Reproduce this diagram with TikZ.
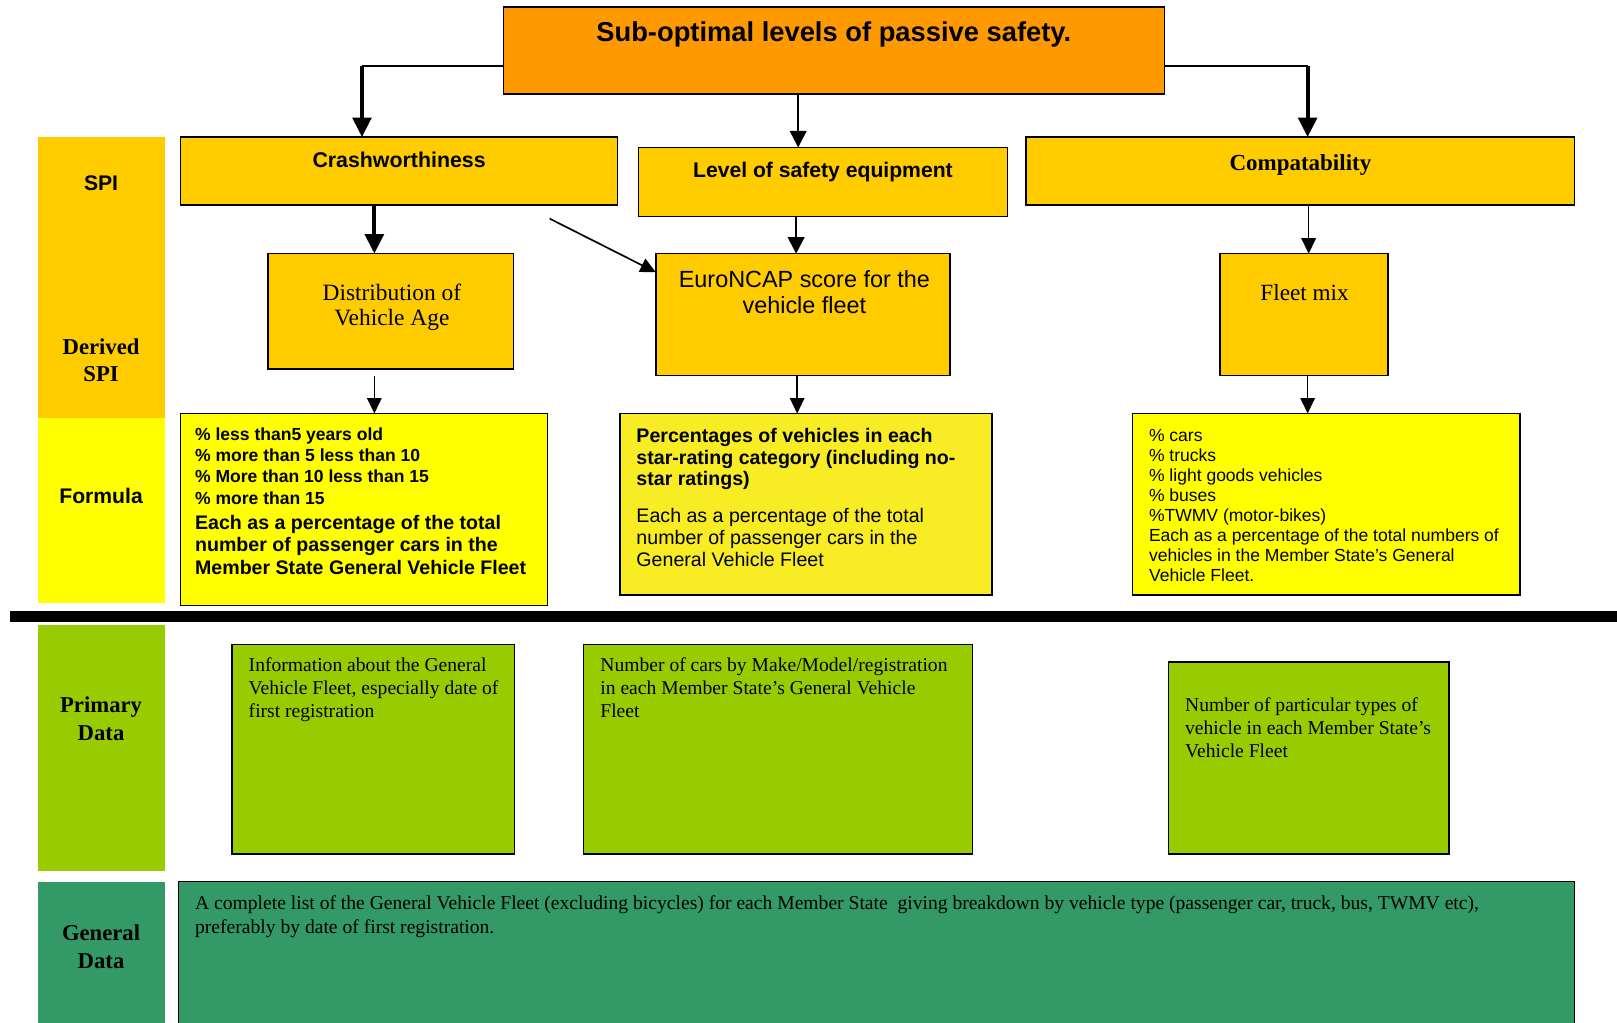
\documentclass[tikz,border=0pt]{standalone}
\usepackage{fontspec}
\setmainfont{Liberation Serif}
\setsansfont{Liberation Sans}
\usetikzlibrary{arrows.meta}
\definecolor{corange}{RGB}{255,153,0}
\definecolor{cgold}{RGB}{255,204,0}
\definecolor{cyellow}{RGB}{255,255,0}
\definecolor{cpale}{RGB}{248,236,36}
\definecolor{clime}{RGB}{153,204,0}
\definecolor{csea}{RGB}{51,153,102}
\newcommand{\fs}[2]{\fontsize{#1}{#2}\selectfont}
\tikzset{
  box/.style={draw=black, line width=1.4pt, inner sep=0pt, outer sep=0pt, anchor=north west},
  band/.style={inner sep=0pt, outer sep=0pt, anchor=north west},
  lbl/.style={inner sep=0pt, anchor=base, align=center},
  txt/.style={inner sep=0pt, anchor=base west, align=left},
  plainline/.style={line width=1.6pt},
  thickarr/.style={line width=4pt, -{Triangle[length=19pt,width=18pt]}},
  medarr/.style={line width=2.2pt, -{Triangle[length=16pt,width=16pt]}},
  thinarr/.style={line width=1.6pt, -{Triangle[length=15pt,width=14pt]}},
}
\begin{document}
\begin{tikzpicture}[x=1pt,y=-1pt]
\clip (0,0) rectangle (1568,992);
% left bands
\node[band, fill=cgold,  minimum width=123pt, minimum height=272pt] (bandS) at (37,133) {};
\node[band, fill=cyellow,minimum width=123pt, minimum height=180pt] (bandF) at (37,405) {};
\node[band, fill=clime,  minimum width=123pt, minimum height=239pt] (bandP) at (37,606) {};
\node[band, fill=csea,   minimum width=123pt, minimum height=150pt] (bandG) at (37,855) {};
\node[lbl, font=\sffamily\bfseries\fs{20.5}{25}] (lS) at (98,185) {SPI};
\node[lbl, font=\rmfamily\bfseries\fs{22}{26}] (lD) at (98,370) {Derived\\SPI};
\node[lbl, font=\sffamily\bfseries\fs{20.5}{25}] (lF) at (98,488) {Formula};
\node[lbl, font=\rmfamily\bfseries\fs{22}{27}] (lP) at (98,718) {Primary\\Data};
\node[lbl, font=\rmfamily\bfseries\fs{22}{27}] (lG) at (98,939) {General\\Data};
% separator
\fill[black] (10,592) rectangle (1568,603);
% boxes
\node[box, fill=corange, minimum width=641pt, minimum height=84pt] (top) at (488,7) {};
\node[box, fill=cgold, minimum width=424pt, minimum height=66pt] (crash) at (175,133) {};
\node[box, fill=cgold, minimum width=358pt, minimum height=67pt] (level) at (619,143) {};
\node[box, fill=cgold, minimum width=532pt, minimum height=66pt] (compat) at (995,133) {};
\node[box, fill=cgold, minimum width=238pt, minimum height=112pt] (dist) at (260,246) {};
\node[box, fill=cgold, minimum width=285pt, minimum height=118pt] (euro) at (636,246) {};
\node[box, fill=cgold, minimum width=163pt, minimum height=118pt] (fleet) at (1183,246) {};
\node[box, fill=cyellow, minimum width=356pt, minimum height=186pt] (f1) at (175,401) {};
\node[box, fill=cpale, minimum width=361pt, minimum height=176pt] (f2) at (601,401) {};
\node[box, fill=cyellow, minimum width=376pt, minimum height=176pt] (f3) at (1098,401) {};
\node[box, fill=clime, minimum width=274pt, minimum height=203pt] (p1) at (225,625) {};
\node[box, fill=clime, minimum width=377pt, minimum height=203pt] (p2) at (566,625) {};
\node[box, fill=clime, minimum width=272pt, minimum height=186pt] (p3) at (1133,642) {};
\node[box, fill=csea, minimum width=1354pt, minimum height=160pt] (gen) at (173,855) {};
% texts
\node[lbl, font=\sffamily\bfseries\fs{26.5}{30}] (tTop) at (808.5,40.5) {Sub-optimal levels of passive safety.};
\node[lbl, font=\sffamily\bfseries\fs{20.7}{25}] (tCrash) at (387,162) {Crashworthiness};
\node[lbl, font=\sffamily\bfseries\fs{20.5}{25}] (tLevel) at (798,172) {Level of safety equipment};
\node[lbl, font=\rmfamily\bfseries\fs{22.3}{26}] (tCompat) at (1261,165) {Compatability};
\node[lbl, font=\rmfamily\fs{22.7}{25}] (tDist) at (380,316) {Distribution of\\Vehicle Age};
\node[lbl, font=\sffamily\fs{22.7}{25}] (tEuro) at (780,304) {EuroNCAP score for the\\vehicle fleet};
\node[lbl, font=\rmfamily\fs{22.5}{25}] (tFleet) at (1265,291) {Fleet mix};
\node[txt, font=\sffamily\bfseries\fs{17}{20.7}] (tF1a) at (189,489) {\% less than5 years old\\\% more than 5 less than 10\\\% More than 10 less than 15\\\% more than 15};
\node[txt, font=\sffamily\bfseries\fs{19}{22}] (tF1b) at (189,557) {Each as a percentage of the total\\number of passenger cars in the\\Member State General Vehicle Fleet};
\node[txt, font=\sffamily\bfseries\fs{19}{21}] (tF2a) at (617,471) {Percentages of vehicles in each\\star-rating category (including no-\\star ratings)};
\node[txt, font=\sffamily\fs{19}{21}] (tF2b) at (617,549) {Each as a percentage of the total\\number of passenger cars in the\\General Vehicle Fleet};
\node[txt, font=\sffamily\fs{17}{19.4}] (tF3) at (1114,564) {\% cars\\\% trucks\\\% light goods vehicles\\\% buses\\\%TWMV (motor-bikes)\\Each as a percentage of the total numbers of\\vehicles in the Member State’s General\\Vehicle Fleet.};
\node[txt, font=\rmfamily\fs{19}{22.5}] (tP1) at (241,696) {Information about the General\\Vehicle Fleet, especially date of\\first registration};
\node[txt, font=\rmfamily\fs{19}{22.5}] (tP2) at (582,696) {Number of cars by Make/Model/registration\\in each Member State’s General Vehicle\\Fleet};
\node[txt, font=\rmfamily\fs{19}{22.5}] (tP3) at (1149,735) {Number of particular types of\\vehicle in each Member State’s\\Vehicle Fleet};
\node[txt, font=\rmfamily\fs{19}{23}] (tGen) at (189,905) {A complete list of the General Vehicle Fleet (excluding bicycles) for each Member State\ \ giving breakdown by vehicle type (passenger car, truck, bus, TWMV etc),\\preferably by date of first registration.};
% connectors
\coordinate (cL) at (351,64);
\coordinate (cR) at (1268,64);
\coordinate (dg) at (533,212);
\draw[plainline] (top.west |- cL) -- (cL);
\draw[thickarr] (cL) -- (cL |- crash.north);
\draw[plainline] (top.east |- cR) -- (cR);
\draw[thickarr] (cR) -- (cR |- compat.north);
\draw[medarr] ([xshift=-24pt]level.north |- top.south) -- ([xshift=-24pt]level.north);
\draw[thickarr] ([xshift=-16pt]dist.north |- crash.south) -- ([xshift=-16pt]dist.north);
\draw[thinarr] (dg) -- ([yshift=-18pt]euro.north west);
\draw[medarr] ([xshift=-6.5pt]euro.north |- level.south) -- ([xshift=-6.5pt]euro.north);
\draw[thinarr] ([xshift=4.5pt]fleet.north |- compat.south) -- ([xshift=4.5pt]fleet.north);
\draw[thinarr] ([xshift=-16pt,yshift=-7pt]dist.south) -- ([xshift=10pt]f1.north);
\draw[thinarr] ([xshift=-5.5pt]euro.south) -- ([xshift=-8.5pt]f2.north);
\draw[thinarr] ([xshift=3.5pt]fleet.south) -- ([xshift=-18pt]f3.north);
\end{tikzpicture}
\end{document}
